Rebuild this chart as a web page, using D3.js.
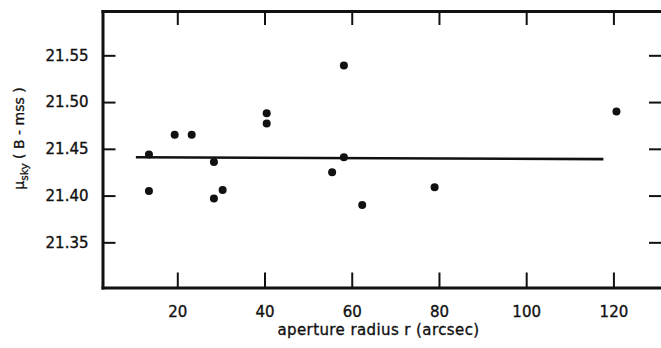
<!DOCTYPE html>
<html>
<head>
<meta charset="utf-8">
<script src="https://cdn.jsdelivr.net/npm/d3@7"></script>
<style>
  html, body { margin: 0; padding: 0; background: #fff; }
  svg { display: block; }
  text { font-family: "DejaVu Sans", sans-serif; fill: #111; }
</style>
</head>
<body>
<svg id="chart" width="661" height="348"></svg>
<script>
// ---- data ----
const radius = [13.5, 13.5, 19.4, 23.3, 28.4, 28.4, 30.4, 40.5, 40.5, 55.5, 58.2, 58.2, 62.4, 79.0, 120.7];
const muSky  = [21.444, 21.405, 21.465, 21.465, 21.436, 21.397, 21.406, 21.488, 21.477, 21.425, 21.539, 21.441, 21.390, 21.409, 21.490];
const fitX = [10.5, 117.7];
const fitY = [21.441, 21.439];
const xTicks = [20, 40, 60, 80, 100, 120];
const yTicks = [21.35, 21.40, 21.45, 21.50, 21.55];
const xLimits = [2.85, 131.6];
const yLimits = [21.3017, 21.5974];

const svg = d3.select("#chart");
const mLeft = 102.5, mRight = 664, mTop = 11, mBottom = 287.5;

const x = d3.scaleLinear().domain(xLimits).range([mLeft, mRight]);
const y = d3.scaleLinear().domain(yLimits).range([mBottom, mTop]);

function styleAxis(g, domainWidth) {
  g.select(".domain").attr("stroke", "#111").attr("stroke-width", domainWidth).attr("stroke-linecap", "square");
  g.selectAll(".tick line").attr("stroke", "#111").attr("stroke-width", 2);
  g.selectAll(".tick text").attr("fill", "#111").attr("font-size", 15)
    .attr("font-family", "DejaVu Sans, sans-serif")
    .attr("stroke", "#111").attr("stroke-width", 0.35);
}

// bottom axis
svg.append("g").attr("transform", `translate(0,${mBottom})`)
  .call(d3.axisBottom(x).tickValues(xTicks).tickSizeInner(-15).tickSizeOuter(0).tickPadding(19).tickFormat(d3.format("d")))
  .call(g => styleAxis(g, 3));
// top axis
svg.append("g").attr("transform", `translate(0,${mTop})`)
  .call(d3.axisTop(x).tickValues(xTicks).tickSizeInner(-14).tickSizeOuter(0).tickFormat(""))
  .call(g => styleAxis(g, 3));
// left axis
svg.append("g").attr("transform", `translate(${mLeft},0)`)
  .call(d3.axisLeft(y).tickValues(yTicks).tickSizeInner(-13).tickSizeOuter(0).tickPadding(14).tickFormat(d3.format(".2f")))
  .call(g => styleAxis(g, 3));
// right axis
svg.append("g").attr("transform", `translate(${mRight},0)`)
  .call(d3.axisRight(y).tickValues(yTicks).tickSizeInner(-15).tickSizeOuter(0).tickFormat(""))
  .call(g => styleAxis(g, 3));

// fit line
svg.append("path")
  .datum(fitX.map((d, i) => [d, fitY[i]]))
  .attr("d", d3.line().x(d => x(d[0])).y(d => y(d[1])))
  .attr("stroke", "#111").attr("stroke-width", 2.6).attr("fill", "none");

// points
svg.append("g").selectAll("circle")
  .data(radius.map((d, i) => [d, muSky[i]]))
  .join("circle")
  .attr("cx", d => x(d[0])).attr("cy", d => y(d[1]))
  .attr("r", 4).attr("fill", "#111");

// x label
svg.append("text")
  .attr("x", 378.5)
  .attr("y", 335)
  .attr("text-anchor", "middle")
  .attr("font-size", 15)
  .attr("letter-spacing", 0.4)
  .attr("stroke", "#111").attr("stroke-width", 0.35)
  .text("aperture radius r (arcsec)");

// y label
const yl = svg.append("text")
  .attr("transform", `translate(24,${(y(21.55) + y(21.40)) / 2 + 13}) rotate(-90)`)
  .attr("text-anchor", "middle")
  .attr("font-size", 14)
  .attr("stroke", "#111").attr("stroke-width", 0.3);
yl.append("tspan").text("μ");
yl.append("tspan").attr("font-size", 10.5).attr("dy", 4).text("sky");
yl.append("tspan").attr("dy", -4).text(" ( B - mss )");
</script>
</body>
</html>
